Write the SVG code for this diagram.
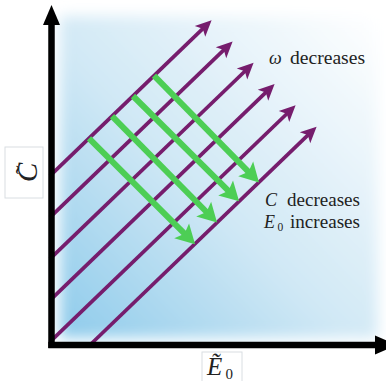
<svg xmlns="http://www.w3.org/2000/svg" width="386" height="381" viewBox="0 0 386 381">
  <style>
    .purple { stroke: #761d6d; stroke-width: 3.7; fill: none; marker-end: url(#pArrow); }
    .green { stroke: #4dce55; stroke-width: 6; fill: none; marker-end: url(#gArrow); }
    .axis { stroke: #000; stroke-width: 6.5; fill: none; }
    .lbl { font-family: "Liberation Serif", "DejaVu Serif", serif; font-size: 18px; fill: #222; }
    .it { font-style: italic; }
    .box { fill: #fff; stroke: #d9dee2; stroke-width: 1; }
  </style>
  <defs>
    <linearGradient id="bg" x1="0" y1="1" x2="1" y2="0">
      <stop offset="0" stop-color="#8ecbeb"/>
      <stop offset="0.45" stop-color="#d0e8f5"/>
      <stop offset="1" stop-color="#ffffff"/>
    </linearGradient>
    <filter id="blur" x="-0.1" y="-0.1" width="1.2" height="1.2">
      <feGaussianBlur stdDeviation="7"/>
    </filter>
    <clipPath id="plotClip">
      <rect x="47" y="0" width="339" height="343"/>
    </clipPath>
    <marker id="pArrow" markerUnits="userSpaceOnUse" orient="auto" markerWidth="20" markerHeight="20" viewBox="-16 -8 18 16" refX="-8" refY="0" overflow="visible">
      <path d="M0,0 L-14.5,-6.8 L-11,0 L-14.5,6.8 Z" fill="#761d6d"/>
    </marker>
    <marker id="gArrow" markerUnits="userSpaceOnUse" orient="auto" markerWidth="24" markerHeight="24" viewBox="-20 -12 22 24" refX="-10" refY="0" overflow="visible">
      <path d="M0,0 L-19,-10.5 L-15,0 L-19,10.5 Z" fill="#4dce55"/>
    </marker>
  </defs>

  <g id="background" clip-path="url(#plotClip)">
    <rect x="60" y="16" width="318" height="322" fill="url(#bg)" filter="url(#blur)"/>
  </g>

  <g id="connectors">
    <g id="purple-lines">
      <line class="purple" x1="50" y1="175.9" x2="205.2" y2="26.4"/>
      <line class="purple" x1="50" y1="217.4" x2="226.2" y2="47.7"/>
      <line class="purple" x1="50" y1="258.9" x2="247.2" y2="69.0"/>
      <line class="purple" x1="50" y1="300.4" x2="268.2" y2="90.2"/>
      <line class="purple" x1="50" y1="341.9" x2="289.2" y2="111.5"/>
      <line class="purple" x1="91" y1="344" x2="310.2" y2="132.8"/>
    </g>
    <g id="green-arrows">
      <line class="green" x1="89" y1="138.3" x2="188" y2="237.2"/>
      <line class="green" x1="112" y1="116.2" x2="210" y2="215.5"/>
      <line class="green" x1="133" y1="96" x2="232" y2="194.3"/>
      <line class="green" x1="154" y1="75.7" x2="252" y2="175.3"/>
    </g>
  </g>

  <g id="axes">
    <line class="axis" x1="51.5" y1="348" x2="51.5" y2="24"/>
    <polygon points="51.5,5 60,25 43,25" fill="#000"/>
    <line class="axis" x1="48.3" y1="345" x2="377" y2="345"/>
    <polygon points="397,345 375,335.5 375,354.5" fill="#000"/>
  </g>

  <g id="label-omega">
    <text class="lbl it" x="269" y="64">ω</text>
    <text class="lbl" x="290" y="64" textLength="75" lengthAdjust="spacingAndGlyphs">decreases</text>
  </g>
  <g id="label-c">
    <text class="lbl it" x="265" y="206">C</text>
    <text class="lbl" x="287" y="206" textLength="73" lengthAdjust="spacingAndGlyphs">decreases</text>
  </g>
  <g id="label-e0">
    <text class="lbl it" x="264" y="228">E</text>
    <text class="lbl" x="277.5" y="231" style="font-size:11.5px">0</text>
    <text class="lbl" x="290" y="228" textLength="70" lengthAdjust="spacingAndGlyphs">increases</text>
  </g>

  <g id="ylabel">
    <rect class="box" x="5" y="147" width="38" height="51"/>
    <g transform="translate(37,182) rotate(-90)">
      <text class="lbl it" x="0" y="0" style="font-size:29px">C</text>
      <text class="lbl" x="12" y="-4" text-anchor="middle" style="font-size:26px">˜</text>
    </g>
  </g>
  <g id="xlabel">
    <rect class="box" x="202" y="352" width="40" height="40"/>
    <text class="lbl it" x="207" y="375" style="font-size:25px">Ẽ</text>
    <text class="lbl" x="225.5" y="379" style="font-size:15px">0</text>
  </g>
</svg>
